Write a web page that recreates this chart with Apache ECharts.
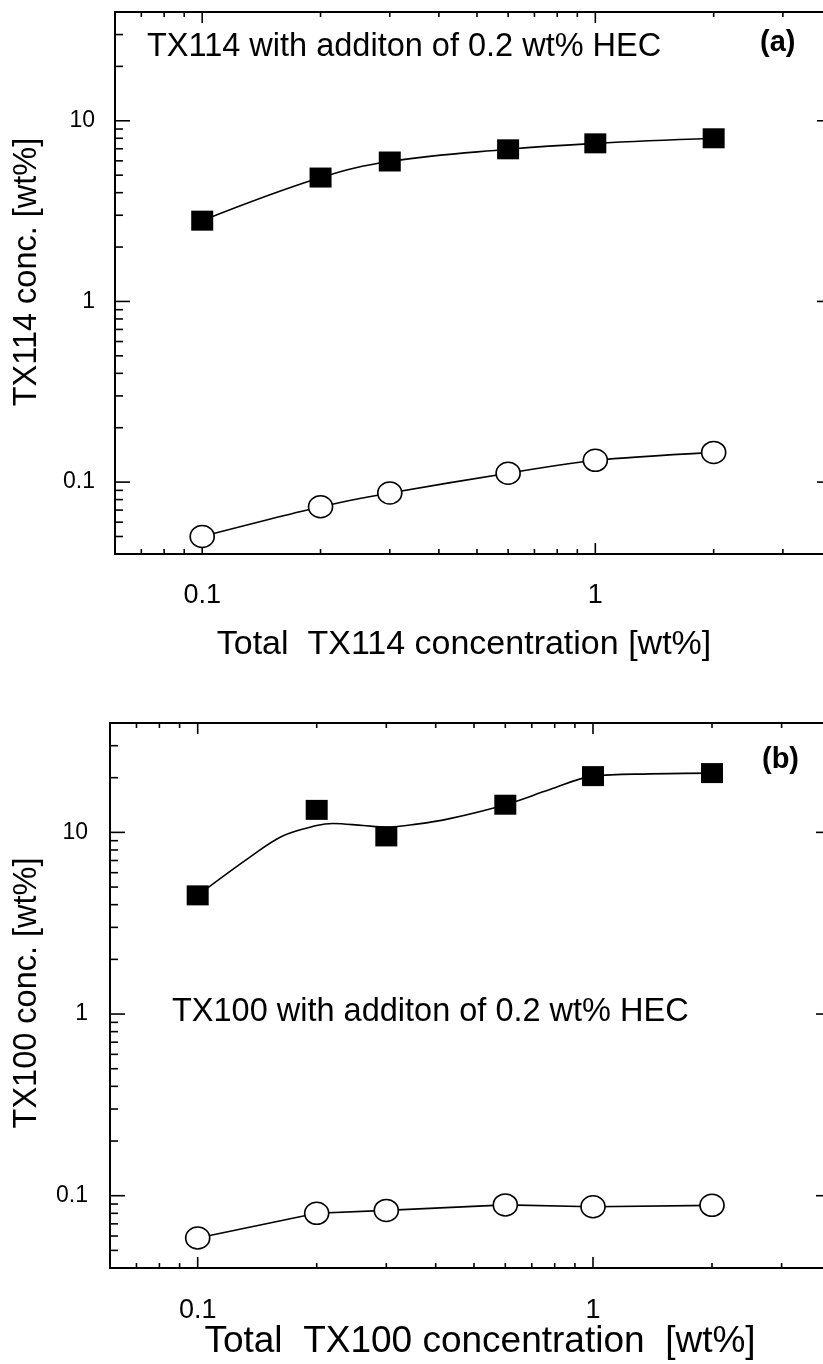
<!DOCTYPE html>
<html>
<head>
<meta charset="utf-8">
<script src="https://cdn.jsdelivr.net/npm/echarts@6/dist/echarts.min.js"></script>
<style>
  html, body { margin: 0; padding: 0; background: #fff; overflow: hidden; }
  /* the figure runs a few pixels past the right edge of the page */
  #chart { width: 850px; height: 1364px; }
</style>
</head>
<body>
<div id="chart"></div>
<script>
// Total surfactant concentration [wt%] (x positions of the measurements)
const totalConc = [0.1, 0.2, 0.3, 0.6, 1, 2];

// (a) TX114 with 0.2 wt% HEC
const tx114Upper = [2.8, 4.85, 5.95, 6.95, 7.5, 8.0];
const tx114Lower = [0.050, 0.073, 0.087, 0.112, 0.132, 0.146];

// (b) TX100 with 0.2 wt% HEC
const tx100Upper = [4.5, 13.3, 9.5, 14.2, 20.4, 21.2];
const tx100Lower = [0.0585, 0.080, 0.083, 0.089, 0.087, 0.0885];
// smoothed guide curve through the TX100 upper points
const tx100CurveX = [0.1, 0.135, 0.164, 0.2, 0.22, 0.262, 0.3, 0.358, 0.434, 0.6, 0.778, 1, 1.39, 2];
const tx100CurveY = [4.5, 7.26, 9.55, 10.9, 11.2, 10.9, 10.7, 11.1, 11.9, 14.2, 17.2, 20.4, 21.0, 21.2];

// axis ranges and ticks (log scales)
const X_MIN = 0.06, X_MAX = 4;
const Y_MIN = 0.04, Y_MAX = 40;
const xMajorTicks = [0.1, 1];
const xMinorTicks = [0.07, 0.08, 0.09, 0.2, 0.3, 0.4, 0.5, 0.6, 0.7, 0.8, 0.9, 2, 3];
const yMajorTicks = [0.1, 1, 10];
const yMinorTicks = [0.05, 0.06, 0.07, 0.08, 0.09,
                     0.2, 0.3, 0.4, 0.5, 0.6, 0.7, 0.8, 0.9,
                     2, 3, 4, 5, 6, 7, 8, 9, 20, 30];
const xTickLabels = ['0.1', '1'];
const yTickLabels = ['0.1', '1', '10'];

const FONT = '"Liberation Sans", Arial, Helvetica, sans-serif';
const INK = '#000';

const pairs = (xs, ys) => xs.map((x, i) => [x, ys[i]]);

// ticks on bottom + top edges of a grid, drawn at data positions on the log x scale
function xTickSeries(gi, values, len) {
  return {
    type: 'custom', xAxisIndex: gi, yAxisIndex: gi, silent: true, clip: false, z: 5,
    data: values.map(v => [v, Y_MIN]),
    renderItem(params, api) {
      const v = api.value(0);
      const b = api.coord([v, Y_MIN]);
      const t = api.coord([v, Y_MAX]);
      return {
        type: 'group', children: [
          { type: 'line', shape: { x1: b[0], y1: b[1], x2: b[0], y2: b[1] - len }, style: { stroke: INK, lineWidth: 1.6 } },
          { type: 'line', shape: { x1: t[0], y1: t[1], x2: t[0], y2: t[1] + len }, style: { stroke: INK, lineWidth: 1.6 } }
        ]
      };
    }
  };
}

// ticks on left + right edges of a grid
function yTickSeries(gi, values, len) {
  return {
    type: 'custom', xAxisIndex: gi, yAxisIndex: gi, silent: true, clip: false, z: 5,
    data: values.map(v => [X_MIN, v]),
    renderItem(params, api) {
      const v = api.value(1);
      const l = api.coord([X_MIN, v]);
      const r = api.coord([X_MAX, v]);
      return {
        type: 'group', children: [
          { type: 'line', shape: { x1: l[0], y1: l[1], x2: l[0] + len, y2: l[1] }, style: { stroke: INK, lineWidth: 1.6 } },
          { type: 'line', shape: { x1: r[0], y1: r[1], x2: r[0] - len, y2: r[1] }, style: { stroke: INK, lineWidth: 1.6 } }
        ]
      };
    }
  };
}

function xLabelSeries(gi, offset) {
  return {
    type: 'custom', xAxisIndex: gi, yAxisIndex: gi, silent: true, clip: false, z: 5,
    data: xMajorTicks.map(v => [v, Y_MIN]),
    renderItem(params, api) {
      const p = api.coord([api.value(0), Y_MIN]);
      return {
        type: 'text',
        style: {
          text: xTickLabels[params.dataIndex], x: p[0], y: p[1] + offset,
          align: 'center', verticalAlign: 'middle', textAlign: 'center', textVerticalAlign: 'middle',
          fontSize: 27, fontFamily: FONT, fill: INK
        }
      };
    }
  };
}

function yLabelSeries(gi, gap) {
  return {
    type: 'custom', xAxisIndex: gi, yAxisIndex: gi, silent: true, clip: false, z: 5,
    data: yMajorTicks.map(v => [X_MIN, v]),
    renderItem(params, api) {
      const p = api.coord([X_MIN, api.value(1)]);
      return {
        type: 'text',
        style: {
          text: yTickLabels[params.dataIndex], x: p[0] - gap, y: p[1],
          align: 'right', verticalAlign: 'middle', textAlign: 'right', textVerticalAlign: 'middle',
          fontSize: 23, fontFamily: FONT, fill: INK
        }
      };
    }
  };
}

const squareStyle = { symbol: 'rect', symbolSize: [22, 20], itemStyle: { color: INK, borderWidth: 0, opacity: 1 } };
const ovalPath = 'path://M12,0A12,12 0 1,1 12,24A12,12 0 1,1 12,0Z';
const circleStyle = {
  symbol: ovalPath, symbolSize: [24, 22], symbolKeepAspect: false,
  itemStyle: { color: '#fff', borderColor: INK, borderWidth: 1.6, opacity: 1 }
};
const curveStyle = { color: INK, width: 1.6 };

function logX(gi) {
  return {
    type: 'log', logBase: 10, gridIndex: gi, min: X_MIN, max: X_MAX,
    axisLine: { show: false }, axisTick: { show: false }, axisLabel: { show: false }, splitLine: { show: false }
  };
}
function logY(gi) {
  return {
    type: 'log', logBase: 10, gridIndex: gi, min: Y_MIN, max: Y_MAX,
    axisLine: { show: false }, axisTick: { show: false }, axisLabel: { show: false }, splitLine: { show: false }
  };
}

function textEl(text, x, y, opts = {}) {
  return {
    type: 'text', x, y, rotation: opts.rotation || 0, silent: true,
    style: {
      text, fontSize: opts.size || 32, fontWeight: opts.weight || 'normal', fontFamily: FONT, fill: INK,
      align: opts.align || 'center', verticalAlign: 'middle',
      textAlign: opts.align || 'center', textVerticalAlign: 'middle'
    }
  };
}

const option = {
  animation: false,
  backgroundColor: '#fff',
  grid: [
    { left: 115, top: 12, width: 717, height: 542, show: true, borderColor: INK, borderWidth: 2, containLabel: false },
    { left: 110, top: 723, width: 721, height: 545, show: true, borderColor: INK, borderWidth: 2, containLabel: false }
  ],
  xAxis: [logX(0), logX(1)],
  yAxis: [logY(0), logY(1)],
  graphic: [
    textEl('TX114 with additon of 0.2 wt% HEC', 147, 47, { align: 'left', size: 32.5 }),
    textEl('(a)', 760, 43, { align: 'left', weight: 'bold', size: 29 }),
    textEl('Total  TX114 concentration [wt%]', 464, 645, { size: 34 }),
    textEl('TX114 conc. [wt%]', 27, 272, { rotation: Math.PI / 2, size: 32.5 }),
    textEl('TX100 with additon of 0.2 wt% HEC', 172, 1012, { align: 'left', size: 32.5 }),
    textEl('(b)', 762, 760, { align: 'left', weight: 'bold', size: 29 }),
    textEl('Total  TX100 concentration  [wt%]', 480, 1342, { size: 37 }),
    textEl('TX100 conc. [wt%]', 27, 993, { rotation: Math.PI / 2, size: 32.5 })
  ],
  series: [
    // frame ticks and labels
    xTickSeries(0, xMajorTicks, 11), xTickSeries(0, xMinorTicks, 5),
    yTickSeries(0, yMajorTicks, 15), yTickSeries(0, yMinorTicks, 8),
    xLabelSeries(0, 42), yLabelSeries(0, 20),
    xTickSeries(1, xMajorTicks, 11), xTickSeries(1, xMinorTicks, 5),
    yTickSeries(1, yMajorTicks, 15), yTickSeries(1, yMinorTicks, 8),
    xLabelSeries(1, 43), yLabelSeries(1, 22),

    // (a) TX114
    Object.assign({
      name: 'TX114 upper', type: 'line', xAxisIndex: 0, yAxisIndex: 0, z: 10,
      data: pairs(totalConc, tx114Upper), smooth: 0.4, lineStyle: curveStyle
    }, squareStyle),
    Object.assign({
      name: 'TX114 lower', type: 'line', xAxisIndex: 0, yAxisIndex: 0, z: 10,
      data: pairs(totalConc, tx114Lower), smooth: 0.25, lineStyle: curveStyle
    }, circleStyle),

    // (b) TX100
    {
      name: 'TX100 upper curve', type: 'line', xAxisIndex: 1, yAxisIndex: 1, z: 9,
      data: pairs(tx100CurveX, tx100CurveY), smooth: 0.35, showSymbol: false, lineStyle: curveStyle
    },
    Object.assign({
      name: 'TX100 upper', type: 'scatter', xAxisIndex: 1, yAxisIndex: 1, z: 10,
      data: pairs(totalConc, tx100Upper)
    }, squareStyle),
    Object.assign({
      name: 'TX100 lower', type: 'line', xAxisIndex: 1, yAxisIndex: 1, z: 10,
      data: pairs(totalConc, tx100Lower), smooth: false, lineStyle: curveStyle
    }, circleStyle)
  ]
};

const chart = echarts.init(document.getElementById('chart'), null, { renderer: 'canvas' });
chart.setOption(option);
</script>
</body>
</html>
